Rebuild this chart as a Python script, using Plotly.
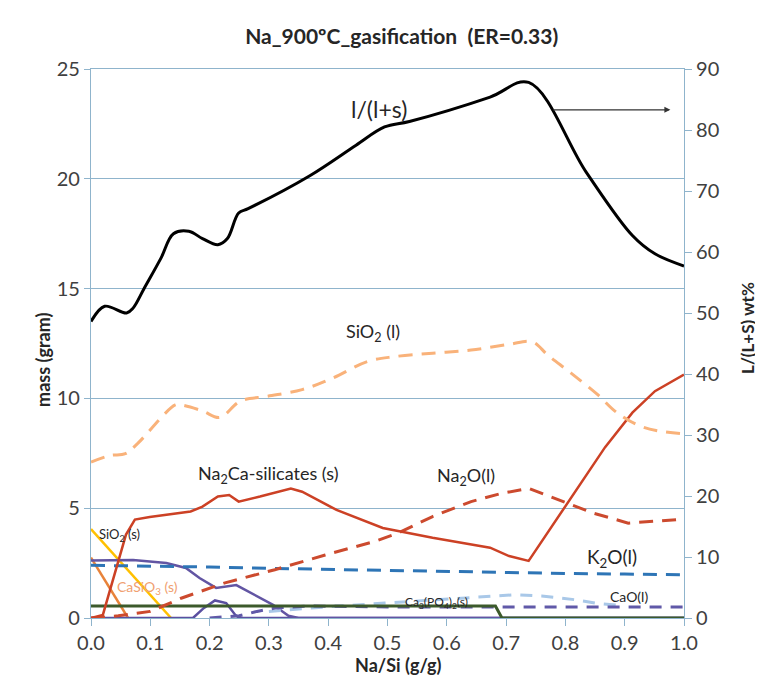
import plotly.graph_objects as go

# liquid fraction l/(l+s), right axis (wt%)
liq_x = [0.0, 0.023, 0.06, 0.071, 0.09, 0.118, 0.139, 0.165, 0.188, 0.214, 0.23, 0.249,
         0.265, 0.369, 0.447, 0.495, 0.537, 0.673, 0.738, 0.835, 0.913, 0.951, 1.0]
liq_y = [48.6, 51.1, 50.0, 50.8, 54.1, 59.0, 63.0, 63.4, 62.2, 61.2, 62.2, 66.4,
         67.1, 72.5, 77.5, 80.5, 81.4, 85.4, 87.8, 73.1, 62.7, 59.7, 57.7]

# SiO2 (l)
sio2l_x = [0.0, 0.032, 0.058, 0.078, 0.142, 0.152, 0.188, 0.217, 0.252, 0.298, 0.356, 0.408,
           0.466, 0.511, 0.576, 0.641, 0.705, 0.744, 0.770, 0.809, 0.854, 0.887, 0.932, 1.0]
sio2l_y = [7.10, 7.40, 7.48, 7.93, 9.70, 9.70, 9.43, 9.13, 9.88, 10.1, 10.4, 10.93,
           11.68, 11.9, 12.06, 12.2, 12.46, 12.58, 11.98, 11.16, 10.18, 9.35, 8.68, 8.38]

# Na2Ca-silicates (s)
na2ca_x = [0.0, 0.02, 0.059, 0.074, 0.099, 0.168, 0.188, 0.214, 0.233, 0.249, 0.285, 0.337,
           0.356, 0.414, 0.492, 0.576, 0.673, 0.705, 0.738, 0.803, 0.867, 0.913, 0.951, 1.0]
na2ca_y = [0.0, 0.14, 3.8, 4.48, 4.6, 4.85, 5.07, 5.53, 5.6, 5.3, 5.53, 5.9,
           5.75, 4.92, 4.1, 3.65, 3.2, 2.82, 2.6, 5.23, 7.78, 9.35, 10.33, 11.08]

# Na2O (l)
na2o_x = [0.0, 0.046, 0.10, 0.152, 0.226, 0.31, 0.395, 0.48, 0.518, 0.576, 0.641, 0.693,
          0.738, 0.803, 0.848, 0.906, 1.0]
na2o_y = [0.0, 0.1, 0.3, 0.9, 1.6, 2.2, 2.87, 3.5, 3.87, 4.62, 5.3, 5.68,
          5.9, 5.23, 4.77, 4.32, 4.5]

# K2O (l)
k2o_x = [0.0, 0.1, 0.2, 0.3, 0.4, 0.5, 0.6, 0.7, 0.8, 0.9, 1.0]
k2o_y = [2.4, 2.37, 2.32, 2.26, 2.21, 2.16, 2.11, 2.07, 2.03, 2.0, 1.97]

# other solid phase (purple)
purple_x = [0.0, 0.071, 0.127, 0.16, 0.183, 0.211, 0.245, 0.279, 0.307, 0.333, 0.35, 1.0]
purple_y = [2.62, 2.64, 2.5, 2.28, 1.82, 1.37, 1.5, 1.0, 0.6, 0.1, 0.0, 0.0]

# small solid bump
bump_x = [0.0, 0.172, 0.19, 0.209, 0.228, 0.243, 0.25, 1.0]
bump_y = [0.0, 0.0, 0.45, 0.8, 0.68, 0.15, 0.0, 0.0]

# CaO (l)
cao_x = [0.2, 0.25, 0.28, 0.31, 0.366, 0.5, 1.0]
cao_y = [0.0, 0.1, 0.3, 0.45, 0.55, 0.5, 0.5]

# light blue liquid
lblue_x = [0.3, 0.367, 0.496, 0.6, 0.665, 0.716, 0.76, 0.817, 0.85, 0.9]
lblue_y = [0.3, 0.45, 0.68, 0.85, 0.95, 1.06, 1.0, 0.83, 0.68, 0.55]

# Ca3(PO4)2 (s)
cap_x = [0.0, 0.682, 0.693, 1.0]
cap_y = [0.55, 0.55, 0.0, 0.0]

# SiO2 (s)
sio2s_x = [0.0, 0.135]
sio2s_y = [4.05, 0.0]

# CaSiO3 (s)
casio3_x = [0.0, 0.0625]
casio3_y = [2.75, 0.0]

FONT = "Lato"
AXIS_COL = "#8fb4cc"
TXT = "#262626"


def line(x, y, color, width, dash="solid", shape="linear", yaxis="y"):
    return go.Scatter(x=x, y=y, mode="lines", yaxis=yaxis,
                      line=dict(color=color, width=width, dash=dash, shape=shape),
                      hoverinfo="skip", showlegend=False)


fig = go.Figure([
    line(casio3_x, casio3_y, "#e8833a", 2.5),
    line(sio2s_x, sio2s_y, "#ffc000", 2.5),
    line(bump_x, bump_y, "#5a4fa0", 2.5),
    line(purple_x, purple_y, "#6255a3", 2.5),
    line(lblue_x, lblue_y, "#a9c8e8", 3, dash="12px,9px"),
    line(cao_x, cao_y, "#6059a8", 3, dash="12px,9px"),
    line(cap_x, cap_y, "#3c5a2b", 3),
    line(k2o_x, k2o_y, "#2e75b6", 3, dash="14px,9px"),
    line(na2o_x, na2o_y, "#cc4a2e", 3, dash="14px,9px"),
    line(na2ca_x, na2ca_y, "#cc4125", 2.5),
    line(sio2l_x, sio2l_y, "#f9b27a", 3, dash="14px,9px", shape="spline"),
    line(liq_x, liq_y, "#000000", 3, shape="spline", yaxis="y2"),
])

notes = [
    (0.30, 6.55, "Na<sub>2</sub>Ca-silicates (s)", 18, TXT),
    (0.475, 13.0, "SiO<sub>2</sub> (l)", 18, TXT),
    (0.633, 6.45, "Na<sub>2</sub>O(l)", 18, TXT),
    (0.878, 2.75, "K<sub>2</sub>O(l)", 19, TXT),
    (0.048, 3.8, "SiO<sub>2</sub> (s)", 13, TXT),
    (0.095, 1.4, "CaSiO<sub>3</sub> (s)", 14, "#f0a070"),
    (0.583, 0.7, "Ca<sub>3</sub>(PO<sub>4</sub>)<sub>2</sub>(s)", 12, TXT),
    (0.907, 1.0, "CaO(l)", 14, TXT),
]
for x, y, t, s, c in notes:
    fig.add_annotation(x=x, y=y, xref="x", yref="y", text=t, showarrow=False,
                       font=dict(family=FONT, size=s, color=c))

fig.add_annotation(x=0.485, y=83.5, xref="x", yref="y2", text="l/(l+s)",
                   showarrow=False, font=dict(family=FONT, size=23, color=TXT))
fig.add_annotation(x=0.977, y=83.3, xref="x", yref="y2", ax=0.777, ay=83.3,
                   axref="x", ayref="y2", text="", showarrow=True,
                   arrowhead=2, arrowsize=1, arrowwidth=1.2, arrowcolor="#333333")

# axis titles
fig.add_annotation(x=-0.103, y=0.47, xref="paper", yref="paper", text="<b>mass (gram)</b>",
                   textangle=-90, showarrow=False, font=dict(family=FONT, size=18, color=TXT))
fig.add_annotation(x=1.127, y=0.528, xref="paper", yref="paper", text="<b>L/(L+S) wt%</b>",
                   textangle=-90, showarrow=False, font=dict(family=FONT, size=17, color=TXT))
fig.add_annotation(x=0.518, y=-0.109, xref="paper", yref="paper", text="<b>Na/Si (g/g)</b>",
                   showarrow=False, font=dict(family=FONT, size=18, color=TXT))

fig.update_layout(
    width=763, height=688,
    margin=dict(l=83, r=87, t=61, b=78),
    paper_bgcolor="white", plot_bgcolor="white",
    font=dict(family=FONT, size=20, color="#404040"),
    title=dict(text="<b>Na_900ºC_gasification  (ER=0.33)</b>", x=0.516, xanchor="center",
               y=0.959, yanchor="middle", font=dict(family=FONT, size=21, color=TXT)),
    xaxis=dict(range=[0, 1.0], tickvals=[i / 10 for i in range(11)], tickformat=".1f",
               showgrid=False, showline=True, linecolor=AXIS_COL, linewidth=1.2, mirror=True,
               ticks="outside", ticklen=7, tickcolor=AXIS_COL, zeroline=False),
    yaxis=dict(range=[0, 25], dtick=5, showgrid=True, gridcolor=AXIS_COL, gridwidth=1.2,
               showline=True, linecolor=AXIS_COL, linewidth=1.2, ticks="outside",
               ticklen=6, tickcolor=AXIS_COL, zeroline=False),
    yaxis2=dict(range=[0, 90], dtick=10, overlaying="y", side="right", showgrid=False,
                showline=True, linecolor=AXIS_COL, linewidth=1.2, ticks="outside",
                ticklen=7, tickcolor=AXIS_COL, zeroline=False),
)

fig.write_html("out.html")
